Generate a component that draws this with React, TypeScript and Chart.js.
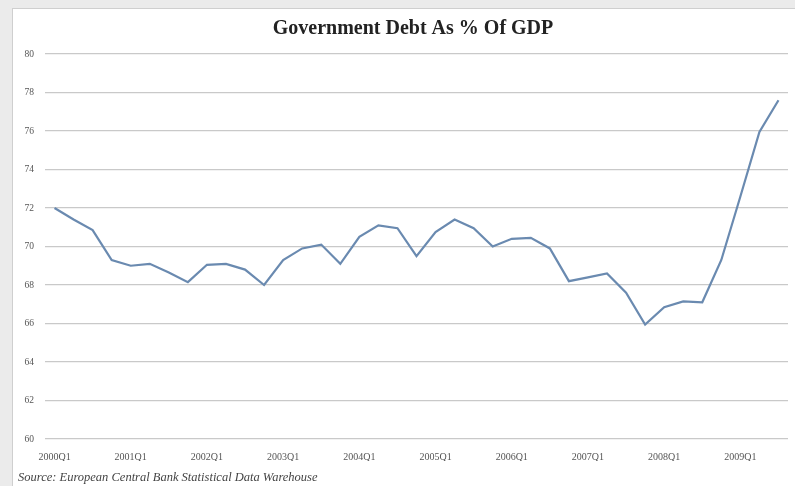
import React, { useEffect, useRef } from "react";
import { Chart, registerables } from "chart.js";

Chart.register(...registerables);

const years = ["2000", "2001", "2002", "2003", "2004", "2005", "2006", "2007", "2008", "2009"];
const quarters = ["Q1", "Q2", "Q3", "Q4"];
const categories: string[] = [];
years.forEach((y) => quarters.forEach((q) => categories.push(y + q)));
categories.splice(39);

const debtValues = [
  72.0, 71.4, 70.85, 69.3, 69.0, 69.1, 68.65, 68.15, 69.05, 69.1,
  68.8, 68.0, 69.3, 69.9, 70.1, 69.1, 70.5, 71.1, 70.95, 69.5,
  70.75, 71.4, 70.95, 70.0, 70.4, 70.45, 69.9, 68.2, 68.4, 68.6,
  67.6, 65.95, 66.85, 67.15, 67.1, 69.3, 72.6, 75.95, 77.6,
];

const yTicks = [60, 62, 64, 66, 68, 70, 72, 74, 76, 78, 80];

const titleText = "Government Debt As % Of GDP";
const sourceText = "Source: European Central Bank Statistical Data Warehouse";

const FONT = "'Liberation Serif', 'DejaVu Serif', serif";

const panelPlugin = {
  id: "panelBg",
  beforeDraw(chart: any) {
    const { ctx, width, height } = chart;
    ctx.save();
    ctx.fillStyle = "#ebebeb";
    ctx.fillRect(0, 0, width, height);
    ctx.fillStyle = "#ffffff";
    ctx.fillRect(12, 8, width - 12, height - 8);
    ctx.strokeStyle = "#cfcfcf";
    ctx.lineWidth = 1;
    ctx.strokeRect(12.5, 8.5, width, height);
    ctx.restore();
  },
  afterDraw(chart: any) {
    const { ctx } = chart;
    ctx.save();
    ctx.textBaseline = "middle";
    ctx.fillStyle = "#222";
    ctx.font = "bold 20px " + FONT;
    ctx.textAlign = "center";
    ctx.fillText(titleText, 413, 29);
    ctx.fillStyle = "#444";
    ctx.font = "italic 12.5px " + FONT;
    ctx.textAlign = "left";
    ctx.fillText(sourceText, 18, 478);
    ctx.restore();
  },
};

export default function App() {
  const ref = useRef<HTMLCanvasElement>(null);
  useEffect(() => {
    document.body.style.margin = "0";
    const chart = new Chart(ref.current!, {
      type: "line",
      data: {
        labels: categories,
        datasets: [
          {
            data: debtValues,
            borderColor: "#6a8ab0",
            borderWidth: 2.2,
            pointRadius: 0,
            tension: 0,
            fill: false,
          },
        ],
      },
      options: {
        responsive: false,
        animation: false,
        layout: { padding: { left: 18, right: 7, top: 54, bottom: 25 } },
        plugins: {
          legend: { display: false },
          tooltip: { enabled: false },
          title: { display: false },
        },
        scales: {
          x: {
            offset: true,
            grid: { display: false },
            border: { display: false },
            ticks: {
              autoSkip: false,
              maxRotation: 0,
              minRotation: 0,
              padding: 4,
              color: "#555",
              font: { family: FONT, size: 10 },
              callback: (_v: any, i: number) =>
                categories[i].endsWith("Q1") ? categories[i] : "",
            },
            afterFit: (s: any) => {
              s.height = 22;
            },
          },
          y: {
            min: 60,
            max: 80,
            afterBuildTicks: (s: any) => {
              s.ticks = yTicks.map((v) => ({ value: v }));
            },
            grid: { color: "#c9c9c9", lineWidth: 1.3, drawTicks: false },
            border: { display: false },
            ticks: {
              padding: 11,
              color: "#555",
              font: { family: FONT, size: 9.5 },
            },
            afterFit: (s: any) => {
              s.width = 27;
            },
          },
        },
      },
      plugins: [panelPlugin],
    });
    return () => chart.destroy();
  }, []);
  return <canvas ref={ref} width={795} height={486} style={{ display: "block" }} />;
}
